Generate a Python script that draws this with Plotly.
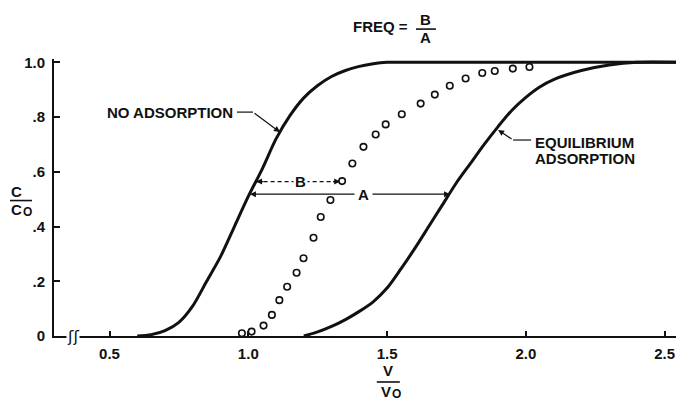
import plotly.graph_objects as go

# ---- data ----
no_ads_x = [0.60, 0.65, 0.70, 0.75, 0.80, 0.85, 0.90, 0.95, 1.00, 1.05, 1.10, 1.15,
            1.20, 1.25, 1.30, 1.35, 1.40, 1.45, 1.50, 1.60, 2.55]
no_ads_y = [0.0, 0.005, 0.02, 0.05, 0.11, 0.20, 0.29, 0.40, 0.51, 0.61, 0.72, 0.805,
            0.87, 0.915, 0.948, 0.97, 0.985, 0.995, 1.0, 1.0, 1.0]

eq_x = [1.20, 1.25, 1.30, 1.35, 1.40, 1.45, 1.50, 1.55, 1.60, 1.65, 1.70, 1.75,
        1.80, 1.85, 1.90, 1.95, 2.00, 2.05, 2.10, 2.20, 2.30, 2.40, 2.55]
eq_y = [0.0, 0.015, 0.035, 0.06, 0.09, 0.125, 0.175, 0.245, 0.32, 0.40, 0.48, 0.56,
        0.63, 0.70, 0.765, 0.825, 0.872, 0.91, 0.937, 0.97, 0.99, 1.0, 1.0]

circ_x = [0.977, 1.012, 1.055, 1.085, 1.112, 1.140, 1.174, 1.199, 1.235, 1.261, 1.296,
          1.338, 1.375, 1.415, 1.459, 1.495, 1.553, 1.621, 1.672, 1.726, 1.783, 1.843,
          1.888, 1.953, 2.013]
circ_y = [0.010, 0.016, 0.038, 0.077, 0.131, 0.180, 0.231, 0.284, 0.359, 0.435, 0.497,
          0.566, 0.630, 0.691, 0.736, 0.773, 0.810, 0.849, 0.882, 0.914, 0.941, 0.961,
          0.968, 0.977, 0.983]

x_tickvals = [0.5, 1.0, 1.5, 2.0, 2.5]
x_ticktext = ["0.5", "1.0", "1.5", "2.0", "2.5"]
y_tickvals = [0, 0.2, 0.4, 0.6, 0.8, 1.0]
y_ticktext = ["0", ".2", ".4", ".6", ".8", "1.0"]

FONT = "Liberation Sans, Arial, sans-serif"
BLACK = "#111111"

fig = go.Figure()
fig.add_trace(go.Scatter(x=no_ads_x, y=no_ads_y, mode="lines",
                         line=dict(color=BLACK, width=3, shape="spline", smoothing=0.8),
                         hoverinfo="skip"))
fig.add_trace(go.Scatter(x=eq_x, y=eq_y, mode="lines",
                         line=dict(color=BLACK, width=3, shape="spline", smoothing=0.8),
                         hoverinfo="skip"))
fig.add_trace(go.Scatter(x=circ_x, y=circ_y, mode="markers",
                         marker=dict(symbol="circle-open", size=6.5, color=BLACK,
                                     line=dict(width=1.6, color=BLACK)),
                         cliponaxis=False, hoverinfo="skip"))

txt = dict(family=FONT, size=15, color=BLACK, weight="bold")
small = dict(family=FONT, size=12, color=BLACK, weight="bold")
ann = []
# No adsorption label + leader
ann.append(dict(x=0.952, y=0.818, xref="x", yref="y", text="NO ADSORPTION",
                showarrow=False, xanchor="right", yanchor="middle", font=txt))
ann.append(dict(x=1.114, y=0.745, ax=1.017, ay=0.818, xref="x", yref="y",
                axref="x", ayref="y", text="", showarrow=True, arrowhead=2,
                arrowsize=1, arrowwidth=1.2, arrowcolor=BLACK))
# Equilibrium label + leader
ann.append(dict(x=2.024, y=0.707, xref="x", yref="y", text="EQUILIBRIUM",
                showarrow=False, xanchor="left", yanchor="middle", font=txt))
ann.append(dict(x=2.024, y=0.650, xref="x", yref="y", text="ADSORPTION",
                showarrow=False, xanchor="left", yanchor="middle", font=txt))
ann.append(dict(x=1.900, y=0.753, ax=1.954, ay=0.716, xref="x", yref="y",
                axref="x", ayref="y", text="", showarrow=True, arrowhead=2,
                arrowsize=1, arrowwidth=1.2, arrowcolor=BLACK))
# A arrows
ann.append(dict(x=1.006, y=0.518, ax=1.414, ay=0.518, xref="x", yref="y",
                axref="x", ayref="y", text="", showarrow=True, arrowhead=2,
                arrowsize=1, arrowwidth=1.2, arrowcolor=BLACK))
ann.append(dict(x=1.727, y=0.518, ax=1.414, ay=0.518, xref="x", yref="y",
                axref="x", ayref="y", text="", showarrow=True, arrowhead=2,
                arrowsize=1, arrowwidth=1.2, arrowcolor=BLACK))
ann.append(dict(x=1.414, y=0.518, xref="x", yref="y", text="A", showarrow=False,
                bgcolor="white", borderpad=3, font=txt))
# B arrow heads (short) + label
ann.append(dict(x=1.028, y=0.564, ax=1.06, ay=0.564, xref="x", yref="y",
                axref="x", ayref="y", text="", showarrow=True, arrowhead=2,
                arrowsize=1, arrowwidth=1.2, arrowcolor=BLACK))
ann.append(dict(x=1.331, y=0.564, ax=1.30, ay=0.564, xref="x", yref="y",
                axref="x", ayref="y", text="", showarrow=True, arrowhead=2,
                arrowsize=1, arrowwidth=1.2, arrowcolor=BLACK))
ann.append(dict(x=1.188, y=0.564, xref="x", yref="y", text="B", showarrow=False,
                bgcolor="white", borderpad=1, font=txt))
# FREQ = B / A
ann.append(dict(x=0.572, y=1.116, xref="paper", yref="paper", text="FREQ =",
                showarrow=False, xanchor="right", yanchor="middle", font=txt))
ann.append(dict(x=0.598, y=1.141, xref="paper", yref="paper", text="B",
                showarrow=False, xanchor="center", yanchor="middle", font=txt))
ann.append(dict(x=0.598, y=1.077, xref="paper", yref="paper", text="A",
                showarrow=False, xanchor="center", yanchor="middle", font=txt))
# y title C / Co
ann.append(dict(x=-0.0595, y=0.520, xref="paper", yref="paper", text="C",
                showarrow=False, xanchor="center", yanchor="middle", font=txt))
ann.append(dict(x=-0.0595, y=0.457, xref="paper", yref="paper", text="C",
                showarrow=False, xanchor="center", yanchor="middle", font=txt))
ann.append(dict(x=-0.0430, y=0.449, xref="paper", yref="paper", text="O",
                showarrow=False, xanchor="center", yanchor="middle", font=small))
# x title V / Vo
ann.append(dict(x=0.537, y=-0.123, xref="paper", yref="paper", text="V",
                showarrow=False, xanchor="center", yanchor="middle", font=txt))
ann.append(dict(x=0.534, y=-0.200, xref="paper", yref="paper", text="V",
                showarrow=False, xanchor="center", yanchor="middle", font=txt))
ann.append(dict(x=0.551, y=-0.210, xref="paper", yref="paper", text="O",
                showarrow=False, xanchor="center", yanchor="middle", font=small))
# axis break mark
ann.append(dict(x=0.368, y=0.0, xref="x", yref="y", text="ʃʃ", showarrow=False,
                bgcolor="white", borderpad=0,
                font=dict(family="DejaVu Sans", size=16, color=BLACK)))

shapes = [
    # NO ADSORPTION leader horizontal
    dict(type="line", xref="x", yref="y", x0=0.959, x1=1.017, y0=0.818, y1=0.818,
         line=dict(color=BLACK, width=1.2)),
    # EQUILIBRIUM leader horizontal
    dict(type="line", xref="x", yref="y", x0=1.954, x1=2.019, y0=0.716, y1=0.716,
         line=dict(color=BLACK, width=1.2)),
    # B dashed line
    dict(type="line", xref="x", yref="y", x0=1.03, x1=1.331, y0=0.564, y1=0.564,
         line=dict(color=BLACK, width=1.2, dash="4px,3px")),
    # fraction bars
    dict(type="line", xref="paper", yref="paper", x0=0.582, x1=0.614, y0=1.108, y1=1.108,
         line=dict(color=BLACK, width=1.6)),
    dict(type="line", xref="paper", yref="paper", x0=-0.0707, x1=-0.0354, y0=0.489, y1=0.489,
         line=dict(color=BLACK, width=1.6)),
    dict(type="line", xref="paper", yref="paper", x0=0.519, x1=0.556, y0=-0.166, y1=-0.166,
         line=dict(color=BLACK, width=1.6)),
]

fig.update_layout(
    width=676, height=398,
    margin=dict(l=54, r=0, t=59, b=62),
    paper_bgcolor="white", plot_bgcolor="white",
    showlegend=False,
    annotations=ann, shapes=shapes,
    xaxis=dict(range=[0.3, 2.541], showgrid=False, zeroline=False,
               showline=True, linecolor=BLACK, linewidth=2,
               ticks="inside", ticklen=5, tickwidth=1.5, tickcolor=BLACK,
               tickvals=x_tickvals, ticktext=x_ticktext,
               ticklabelstandoff=3,
               tickfont=txt),
    yaxis=dict(range=[0, 1.012], showgrid=False, zeroline=False,
               showline=True, linecolor=BLACK, linewidth=2,
               ticks="inside", ticklen=6, tickwidth=1.5, tickcolor=BLACK,
               tickvals=y_tickvals, ticktext=y_ticktext,
               ticklabelstandoff=4,
               tickfont=txt),
)

fig.write_html("out.html")
